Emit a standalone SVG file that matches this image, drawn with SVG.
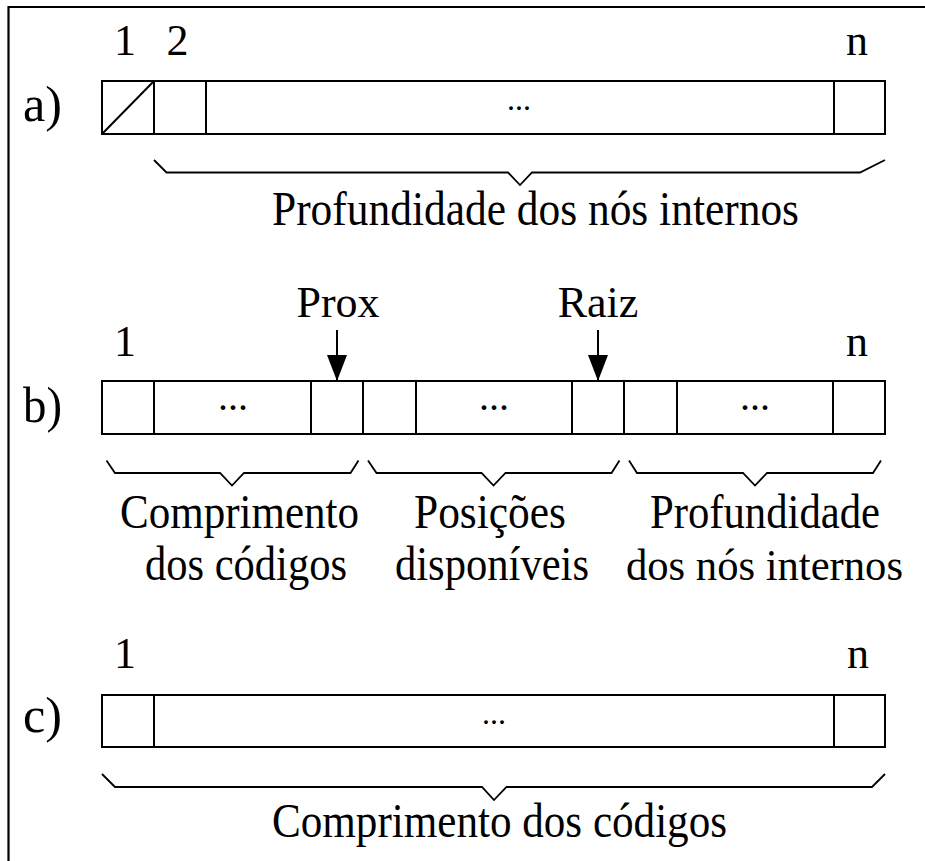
<svg xmlns="http://www.w3.org/2000/svg" width="925" height="861" viewBox="0 0 925 861">
<style>
.t{font-family:"Liberation Serif","Times New Roman",serif;fill:#000}
.big{font-size:48px}
.lab{font-size:50px}
.num{font-size:44px;text-anchor:middle}
.ptr{font-size:44px;text-anchor:middle}
.dots{text-anchor:middle}
.cell{fill:#fff;stroke:#000;stroke-width:2}
.ln{fill:none;stroke:#000;stroke-width:2}
.br{fill:none;stroke:#000;stroke-width:1.8}
</style>
<defs>
<marker id="ah" markerWidth="26" markerHeight="20" refX="26" refY="10" orient="auto" markerUnits="userSpaceOnUse" viewBox="0 0 26 20">
<path d="M0,0 L26,10 L0,20 Z" fill="#000"/>
</marker>
</defs>
<rect x="0" y="0" width="925" height="861" fill="#fff"/>
<path d="M8.5,861 V7 H925" fill="none" stroke="#000" stroke-width="2.2"/>

<g id="row-a">
<text class="t lab" x="23" y="121" textLength="39" lengthAdjust="spacingAndGlyphs">a)</text>
<text class="t num" x="125" y="55">1</text>
<text class="t num" x="177.5" y="55">2</text>
<text class="t num" x="857" y="55">n</text>
<rect class="cell" x="102" y="81" width="783" height="53"/>
<line class="ln" x1="154" y1="81" x2="154" y2="134"/>
<line class="ln" x1="206" y1="81" x2="206" y2="134"/>
<line class="ln" x1="834" y1="81" x2="834" y2="134"/>
<line class="ln" x1="102" y1="134" x2="154" y2="81"/>
<text class="t dots" x="519" y="110" font-size="32">...</text>
<path class="br" d="M154,160 L166.5,172.5 H508 L520,185 L532,172.5 H860 L885,160"/>
<text class="t big" x="272" y="225" textLength="527" lengthAdjust="spacingAndGlyphs">Profundidade dos nós internos</text>
</g>

<g id="row-b">
<text class="t lab" x="23" y="422" textLength="39" lengthAdjust="spacingAndGlyphs">b)</text>
<text class="t num" x="125" y="356">1</text>
<text class="t num" x="857" y="356">n</text>
<rect class="cell" x="102" y="381" width="783" height="53"/>
<line class="ln" x1="154" y1="381" x2="154" y2="434"/>
<line class="ln" x1="311" y1="381" x2="311" y2="434"/>
<line class="ln" x1="363" y1="381" x2="363" y2="434"/>
<line class="ln" x1="416" y1="381" x2="416" y2="434"/>
<line class="ln" x1="572" y1="381" x2="572" y2="434"/>
<line class="ln" x1="624" y1="381" x2="624" y2="434"/>
<line class="ln" x1="677" y1="381" x2="677" y2="434"/>
<line class="ln" x1="833" y1="381" x2="833" y2="434"/>
<text class="t dots" x="233" y="410" font-size="40">...</text>
<text class="t dots" x="494" y="410" font-size="40">...</text>
<text class="t dots" x="755" y="410" font-size="40">...</text>
<path class="br" d="M106.5,460.5 L115,473 H220 L232,485.5 L244,473 H350.5 L358.5,460.5"/>
<path class="br" d="M368,460.5 L376.5,473 H481.5 L493.5,485.5 L505.5,473 H611.5 L619.5,460.5"/>
<path class="br" d="M629,460.5 L637,473 H743 L755,485.5 L767,473 H873 L881,460.5"/>
<text class="t big" x="120" y="528" textLength="239" lengthAdjust="spacingAndGlyphs">Comprimento</text>
<text class="t big" x="145" y="580" textLength="202" lengthAdjust="spacingAndGlyphs">dos códigos</text>
<text class="t big" x="414" y="528" textLength="152" lengthAdjust="spacingAndGlyphs">Posições</text>
<text class="t big" x="395" y="580" textLength="194" lengthAdjust="spacingAndGlyphs">disponíveis</text>
<text class="t big" x="650" y="528" textLength="230" lengthAdjust="spacingAndGlyphs">Profundidade</text>
<text class="t" x="626" y="580" font-size="45" textLength="277" lengthAdjust="spacingAndGlyphs">dos nós internos</text>
</g>

<g id="pointer-prox">
<text class="t ptr" x="338" y="317">Prox</text>
</g>
<g id="pointer-raiz">
<text class="t ptr" x="598" y="317">Raiz</text>
</g>

<g id="connectors">
<line class="ln" x1="337" y1="330" x2="337" y2="381" marker-end="url(#ah)"/>
<line class="ln" x1="598" y1="330" x2="598" y2="381" marker-end="url(#ah)"/>
</g>

<g id="row-c">
<text class="t lab" x="23" y="732" textLength="39" lengthAdjust="spacingAndGlyphs">c)</text>
<text class="t num" x="125" y="668">1</text>
<text class="t num" x="858" y="668">n</text>
<rect class="cell" x="102" y="695" width="783" height="52"/>
<line class="ln" x1="154" y1="695" x2="154" y2="747"/>
<line class="ln" x1="834" y1="695" x2="834" y2="747"/>
<text class="t dots" x="494" y="724" font-size="32">...</text>
<path class="br" d="M102,774 L115,787 H482 L494,800 L506.5,787 H872 L885,774"/>
<text class="t big" x="272" y="837" textLength="455" lengthAdjust="spacingAndGlyphs">Comprimento dos códigos</text>
</g>
</svg>
